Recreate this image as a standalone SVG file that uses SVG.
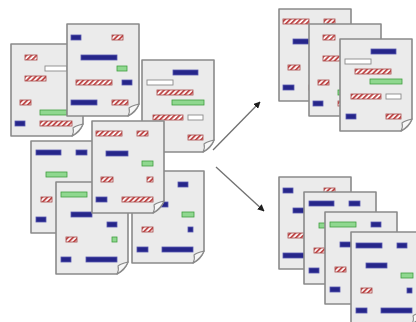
<svg xmlns="http://www.w3.org/2000/svg" xmlns:xlink="http://www.w3.org/1999/xlink" width="416" height="322" viewBox="0 0 416 322">
<style>
.sheet{fill:#ebebeb;stroke:#8a8a8a;stroke-width:1.6;stroke-linejoin:round}
.flap{fill:#f7f7f7;stroke:#8a8a8a;stroke-width:1.1;stroke-linejoin:round}
.b{fill:#26268a;stroke:#5858b0;stroke-width:0.8}
.r{fill:url(#hatch);stroke:#a84848;stroke-width:0.8}
.g{fill:#8fd88f;stroke:#3f9f3f;stroke-width:0.8}
.w{fill:#ffffff;stroke:#8a8a8a;stroke-width:0.9}
.conn{stroke:#707070;stroke-width:1.3;fill:none}
</style>
<defs>
<pattern id="hatch" width="3.6" height="3.6" patternUnits="userSpaceOnUse" patternTransform="rotate(45)">
<rect width="3.6" height="3.6" fill="#ffffff"/>
<rect width="1.9" height="3.6" fill="#c24c4c"/>
</pattern>
<marker id="arrow" viewBox="0 0 10 10" refX="9" refY="5" markerWidth="7" markerHeight="7" orient="auto" markerUnits="userSpaceOnUse">
<path d="M0,0 L10,5 L0,10 Z" fill="#1e1e1e"/>
</marker>
<g id="sheet">
<path class="sheet" d="M0,0 H72 V80 Q69,88 61,92 H0 Z"/>
<path class="flap" d="M72,80 C68,81 64,82 62,84 C63,87 62,90 61,92 C66,89 70,85 72,80 Z"/>
</g>
<g id="cA">
<rect class="r" x="14" y="11" width="12" height="5"/>
<rect class="w" x="34" y="22" width="22" height="5"/>
<rect class="r" x="14" y="32" width="21" height="5"/>
<rect class="r" x="9" y="56" width="11" height="5"/>
<rect class="g" x="29" y="66" width="27" height="5"/>
<rect class="b" x="4" y="77" width="10" height="5"/>
<rect class="r" x="29" y="77" width="32" height="5"/>
</g>
<g id="cB">
<rect class="b" x="4" y="11" width="10" height="5"/>
<rect class="r" x="45" y="11" width="11" height="5"/>
<rect class="b" x="14" y="31" width="36" height="5"/>
<rect class="g" x="50" y="42" width="10" height="5"/>
<rect class="r" x="9" y="56" width="36" height="5"/>
<rect class="b" x="55" y="56" width="10" height="5"/>
<rect class="b" x="4" y="76" width="26" height="5"/>
<rect class="r" x="45" y="76" width="16" height="5"/>
</g>
<g id="cC">
<rect class="b" x="31" y="10" width="25" height="5"/>
<rect class="w" x="5" y="20" width="26" height="5"/>
<rect class="r" x="15" y="30" width="36" height="5"/>
<rect class="g" x="30" y="40" width="32" height="5"/>
<rect class="r" x="11" y="55" width="30" height="5"/>
<rect class="w" x="46" y="55" width="15" height="5"/>
<rect class="b" x="6" y="75" width="10" height="5"/>
<rect class="r" x="46" y="75" width="15" height="5"/>
</g>
<g id="cD">
<rect class="r" x="4" y="10" width="26" height="5"/>
<rect class="r" x="45" y="10" width="11" height="5"/>
<rect class="b" x="14" y="30" width="22" height="5"/>
<rect class="g" x="50" y="40" width="11" height="5"/>
<rect class="r" x="9" y="56" width="12" height="5"/>
<rect class="r" x="55" y="56" width="6" height="5"/>
<rect class="b" x="4" y="76" width="11" height="5"/>
<rect class="r" x="30" y="76" width="31" height="5"/>
</g>
<g id="cE">
<rect class="b" x="5" y="9" width="25" height="5"/>
<rect class="b" x="45" y="9" width="11" height="5"/>
<rect class="g" x="15" y="31" width="21" height="5"/>
<rect class="r" x="10" y="56" width="11" height="5"/>
<rect class="b" x="5" y="76" width="10" height="5"/>
</g>
<g id="cF">
<rect class="g" x="5" y="10" width="26" height="5"/>
<rect class="b" x="46" y="10" width="10" height="5"/>
<rect class="b" x="15" y="30" width="21" height="5"/>
<rect class="b" x="51" y="40" width="10" height="5"/>
<rect class="r" x="10" y="55" width="11" height="5"/>
<rect class="g" x="56" y="55" width="5" height="5"/>
<rect class="b" x="5" y="75" width="10" height="5"/>
<rect class="b" x="30" y="75" width="31" height="5"/>
</g>
<g id="cG">
<rect class="b" x="5" y="11" width="26" height="5"/>
<rect class="b" x="46" y="11" width="10" height="5"/>
<rect class="b" x="15" y="31" width="21" height="5"/>
<rect class="g" x="50" y="41" width="12" height="5"/>
<rect class="r" x="10" y="56" width="11" height="5"/>
<rect class="b" x="56" y="56" width="5" height="5"/>
<rect class="b" x="5" y="76" width="11" height="5"/>
<rect class="b" x="30" y="76" width="31" height="5"/>
</g>
</defs>
<rect width="416" height="322" fill="#ffffff"/>
<g id="input-pages">
<g id="page-a" transform="translate(11,44)"><use href="#sheet"/><use href="#cA"/></g>
<g id="page-b" transform="translate(67,24)"><use href="#sheet"/><use href="#cB"/></g>
<g id="page-c" transform="translate(142,60)"><use href="#sheet"/><use href="#cC"/></g>
<g id="page-e" transform="translate(31,141)"><use href="#sheet"/><use href="#cE"/></g>
<g id="page-f" transform="translate(56,182)"><use href="#sheet"/><use href="#cF"/></g>
<g id="page-g" transform="translate(132,171)"><use href="#sheet"/><use href="#cG"/></g>
<g id="page-d" transform="translate(92,121)"><use href="#sheet"/><use href="#cD"/></g>
</g>
<g id="output-top">
<g id="page-h" transform="translate(279,9)"><use href="#sheet"/><use href="#cD"/></g>
<g id="page-i" transform="translate(309,24)"><use href="#sheet"/><use href="#cA"/></g>
<g id="page-j" transform="translate(340,39)"><use href="#sheet"/><use href="#cC"/></g>
</g>
<g id="output-bottom">
<g id="page-k" transform="translate(279,177)"><use href="#sheet"/><use href="#cB"/></g>
<g id="page-l" transform="translate(304,192)"><use href="#sheet"/><use href="#cE"/></g>
<g id="page-m" transform="translate(325,212)"><use href="#sheet"/><use href="#cF"/></g>
<g id="page-n" transform="translate(351,232)"><use href="#sheet"/><use href="#cG"/></g>
</g>
<g id="connectors">
<line class="conn" x1="213" y1="150" x2="260" y2="102" marker-end="url(#arrow)"/>
<line class="conn" x1="216" y1="167" x2="264" y2="211" marker-end="url(#arrow)"/>
</g>
</svg>
